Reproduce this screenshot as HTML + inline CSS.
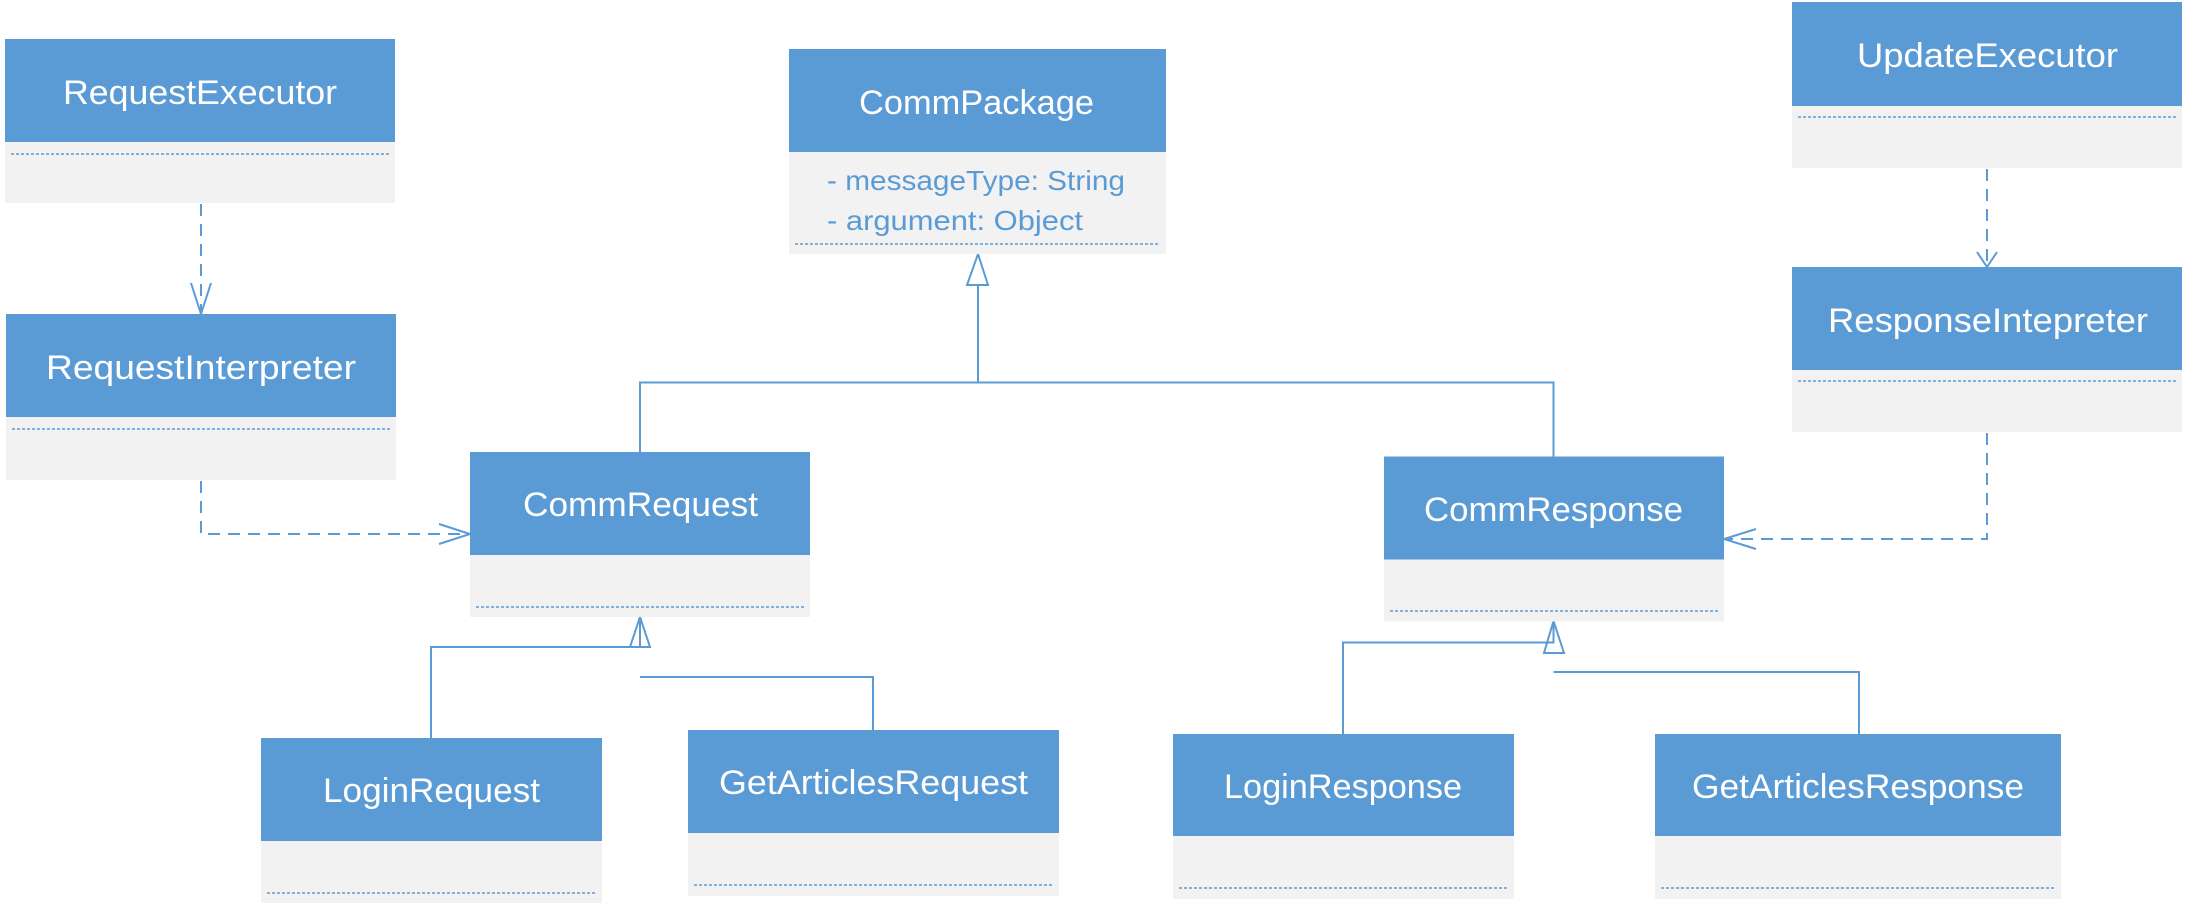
<!DOCTYPE html>
<html><head><meta charset="utf-8"><style>
html,body{margin:0;padding:0;background:#fff;}
svg{display:block}
.t{font-family:"Liberation Sans",sans-serif;font-size:34px;fill:#fff}
.a{font-family:"Liberation Sans",sans-serif;font-size:28px;fill:#5B9BD5}
</style></head><body>
<svg width="2187" height="906" viewBox="0 0 2187 906" xmlns="http://www.w3.org/2000/svg">
<g fill="none" stroke="#5B9BD5" stroke-width="2">
<path d="M978 285 V382.5 H640 V452"/>
<path d="M978 382.5 H1553.5 V456.5"/>
<path d="M640 617 V647 H431 V738"/>
<path d="M640 677 H873 V730"/>
<path d="M1553.5 621 V642.5 H1343 V734"/>
<path d="M1553.5 672 H1859 V734"/>
<polygon points="978,254 967,285 988,285" fill="#fff"/>
<polygon points="640,617 630,647 650,647"/>
<polygon points="1553.5,621 1544,653 1564,653"/>
<g stroke-dasharray="12,8">
<path d="M201 204 V314"/>
<path d="M201 481 V534 H470"/>
<path d="M1987 169 V267"/>
<path d="M1987 433 V539 H1724"/>
</g>
<path d="M191 283 L201 314 L211 283"/>
<path d="M439 524 L470 534 L439 544"/>
<path d="M1977 252 L1987 267 L1997 252"/>
<path d="M1756 529 L1724 539 L1756 549"/>
</g>
<g>
<rect x="5" y="39" width="390" height="164" fill="#F2F2F2"/><rect x="5" y="39" width="390" height="103" fill="#5B9BD5"/>
<line x1="11" y1="154" x2="389" y2="154" stroke="#5B9BD5" stroke-width="1.5" stroke-dasharray="3,2"/>
<text class="t" x="63" y="104" textLength="274" lengthAdjust="spacingAndGlyphs">RequestExecutor</text>
<rect x="6" y="314" width="390" height="166" fill="#F2F2F2"/><rect x="6" y="314" width="390" height="103" fill="#5B9BD5"/>
<line x1="12" y1="429" x2="390" y2="429" stroke="#5B9BD5" stroke-width="1.5" stroke-dasharray="3,2"/>
<text class="t" x="46" y="379" textLength="310" lengthAdjust="spacingAndGlyphs">RequestInterpreter</text>
<rect x="789" y="49" width="377" height="205" fill="#F2F2F2"/><rect x="789" y="49" width="377" height="103" fill="#5B9BD5"/>
<line x1="795" y1="244" x2="1160" y2="244" stroke="#5B9BD5" stroke-width="1.5" stroke-dasharray="3,2"/>
<text class="t" x="859" y="114" textLength="235" lengthAdjust="spacingAndGlyphs">CommPackage</text>
<text class="a" x="827" y="190" textLength="298" lengthAdjust="spacingAndGlyphs">- messageType: String</text>
<text class="a" x="827" y="230" textLength="256" lengthAdjust="spacingAndGlyphs">- argument: Object</text>
<rect x="470" y="452" width="340" height="165" fill="#F2F2F2"/><rect x="470" y="452" width="340" height="103" fill="#5B9BD5"/>
<line x1="476" y1="607" x2="804" y2="607" stroke="#5B9BD5" stroke-width="1.5" stroke-dasharray="3,2"/>
<text class="t" x="523" y="516" textLength="235" lengthAdjust="spacingAndGlyphs">CommRequest</text>
<rect x="261" y="738" width="341" height="165" fill="#F2F2F2"/><rect x="261" y="738" width="341" height="103" fill="#5B9BD5"/>
<line x1="267" y1="893" x2="596" y2="893" stroke="#5B9BD5" stroke-width="1.5" stroke-dasharray="3,2"/>
<text class="t" x="323" y="802" textLength="217" lengthAdjust="spacingAndGlyphs">LoginRequest</text>
<rect x="688" y="730" width="371" height="166" fill="#F2F2F2"/><rect x="688" y="730" width="371" height="103" fill="#5B9BD5"/>
<line x1="694" y1="885" x2="1053" y2="885" stroke="#5B9BD5" stroke-width="1.5" stroke-dasharray="3,2"/>
<text class="t" x="719" y="794" textLength="309" lengthAdjust="spacingAndGlyphs">GetArticlesRequest</text>
<rect x="1792" y="2" width="390" height="166" fill="#F2F2F2"/><rect x="1792" y="2" width="390" height="104" fill="#5B9BD5"/>
<line x1="1798" y1="117" x2="2176" y2="117" stroke="#5B9BD5" stroke-width="1.5" stroke-dasharray="3,2"/>
<text class="t" x="1857" y="67" textLength="261" lengthAdjust="spacingAndGlyphs">UpdateExecutor</text>
<rect x="1792" y="267" width="390" height="165" fill="#F2F2F2"/><rect x="1792" y="267" width="390" height="103" fill="#5B9BD5"/>
<line x1="1798" y1="381" x2="2176" y2="381" stroke="#5B9BD5" stroke-width="1.5" stroke-dasharray="3,2"/>
<text class="t" x="1828" y="332" textLength="320" lengthAdjust="spacingAndGlyphs">ResponseIntepreter</text>
<rect x="1384" y="456.5" width="340" height="165" fill="#F2F2F2"/><rect x="1384" y="456.5" width="340" height="103" fill="#5B9BD5"/>
<line x1="1390" y1="611" x2="1718" y2="611" stroke="#5B9BD5" stroke-width="1.5" stroke-dasharray="3,2"/>
<text class="t" x="1424" y="521" textLength="259" lengthAdjust="spacingAndGlyphs">CommResponse</text>
<rect x="1173" y="734" width="341" height="165" fill="#F2F2F2"/><rect x="1173" y="734" width="341" height="102" fill="#5B9BD5"/>
<line x1="1179" y1="888" x2="1508" y2="888" stroke="#5B9BD5" stroke-width="1.5" stroke-dasharray="3,2"/>
<text class="t" x="1224" y="798" textLength="238" lengthAdjust="spacingAndGlyphs">LoginResponse</text>
<rect x="1655" y="734" width="406" height="165" fill="#F2F2F2"/><rect x="1655" y="734" width="406" height="102" fill="#5B9BD5"/>
<line x1="1661" y1="888" x2="2055" y2="888" stroke="#5B9BD5" stroke-width="1.5" stroke-dasharray="3,2"/>
<text class="t" x="1692" y="798" textLength="332" lengthAdjust="spacingAndGlyphs">GetArticlesResponse</text>
</g>
</svg>
</body></html>
